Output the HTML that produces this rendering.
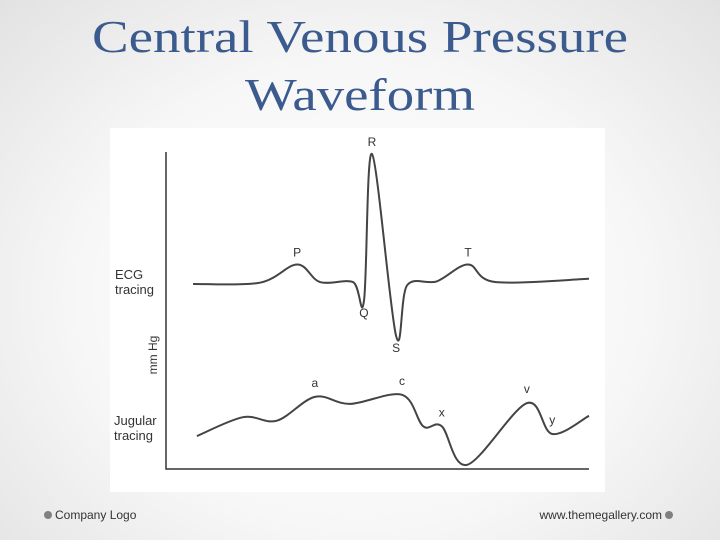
<!DOCTYPE html>
<html><head><meta charset="utf-8"><style>
html,body{margin:0;padding:0}
body{width:720px;height:540px;overflow:hidden;background:radial-gradient(ellipse at 50% 55%,#ffffff 0%,#f7f7f7 55%,#e2e2e2 100%);font-family:"Liberation Sans",sans-serif;position:relative}
svg{position:absolute;left:0;top:0}
</style></head><body>
<svg width="720" height="540">
<text x="360" y="52" text-anchor="middle" font-family="Liberation Serif, serif" font-size="46" fill="#3b5b8e" textLength="536" lengthAdjust="spacingAndGlyphs">Central Venous Pressure</text>
<text x="360" y="110" text-anchor="middle" font-family="Liberation Serif, serif" font-size="46" fill="#3b5b8e" textLength="230" lengthAdjust="spacingAndGlyphs">Waveform</text>
<rect x="110" y="128" width="495" height="364" fill="#ffffff"/>
<g id="chart"></g>
<circle cx="48" cy="515" r="4" fill="#808080"/>
<text x="55" y="519" font-size="12" fill="#333">Company Logo</text>
<text x="662" y="519" font-size="12" fill="#333" text-anchor="end">www.themegallery.com</text>
<circle cx="669" cy="515" r="4" fill="#808080"/>
</svg>
<script>
const ecgT=[6.4,22.2,31,36.4,44.2,46.8,48.7,54.4,57,64,71.4,77.8,100];
const ecgV=[0,0.1,1.5,0.15,0.15,-1.3,10,-4,-0.1,0.2,1.5,0.15,0.4];
const ecgLabels=["P","Q","R","S","T"];
const ecgLabelIdx=[2,5,6,7,10];
const jugT=[7.3,18.2,26.2,35.2,43.5,55.8,60.8,65.2,71.2,85.3,91.3,100];
const jugV=[4.7,7.4,6.9,10.3,9.3,10.6,6.1,6.1,0.6,9.4,5,7.6];
const jugLabels=["a","c","x","v","y"];
const jugLabelIdx=[3,5,7,9,10];

const NS="http://www.w3.org/2000/svg";
const g=document.getElementById('chart');
const xS=t=>166+t*4.23;
const ecgY=v=>284-v*13;
const jugY=v=>469-v*7;
function mk(tag,attrs){const e=document.createElementNS(NS,tag);for(const k in attrs)e.setAttribute(k,attrs[k]);g.appendChild(e);return e;}
function smooth(pts){let d="M"+pts[0][0]+","+pts[0][1];
 for(let i=0;i<pts.length-1;i++){const p0=pts[Math.max(i-1,0)],p1=pts[i],p2=pts[i+1],p3=pts[Math.min(i+2,pts.length-1)];
 const k=6;d+=` C${p1[0]+(p2[0]-p0[0])/k},${p1[1]+(p2[1]-p0[1])/k} ${p2[0]-(p3[0]-p1[0])/k},${p2[1]-(p3[1]-p1[1])/k} ${p2[0]},${p2[1]}`;}
 return d;}
const axis=mk('path',{d:"M166,152 L166,469 L589,469",fill:"none",stroke:"#333",'stroke-width':1.5});


const ecgPts=ecgT.map((t,i)=>[xS(t),ecgY(ecgV[i])]);
const ecg=mk('path',{d:smooth(ecgPts),fill:"none",stroke:"#444",'stroke-width':2});


const jugPts=jugT.map((t,i)=>[xS(t),jugY(jugV[i])]);
const jug=mk('path',{d:smooth(jugPts),fill:"none",stroke:"#444",'stroke-width':2});


ecgLabels.forEach((l,j)=>{const i=ecgLabelIdx[j];const above=ecgV[i]>0;
 const t=mk('text',{x:xS(ecgT[i]),y:ecgY(ecgV[i])+(above?-8:16),'text-anchor':'middle','font-size':12,fill:'#333'});t.textContent=l;
 
 });
jugLabels.forEach((l,j)=>{const i=jugLabelIdx[j];
 const t=mk('text',{x:xS(jugT[i]),y:jugY(jugV[i])-10,'text-anchor':'middle','font-size':12,fill:'#333'});t.textContent=l;
 
 });
[["ECG",115,279],["tracing",115,294],["Jugular",114,425],["tracing",114,440]].forEach((a,i)=>{
 const t=mk('text',{x:a[1],y:a[2],'font-size':13,fill:'#333'});t.textContent=a[0];
 
 });
const yt=mk('text',{x:0,y:0,'font-size':12,fill:'#333','text-anchor':'middle',transform:'translate(157,355) rotate(-90)'});yt.textContent="mm Hg";


</script>
</body></html>
